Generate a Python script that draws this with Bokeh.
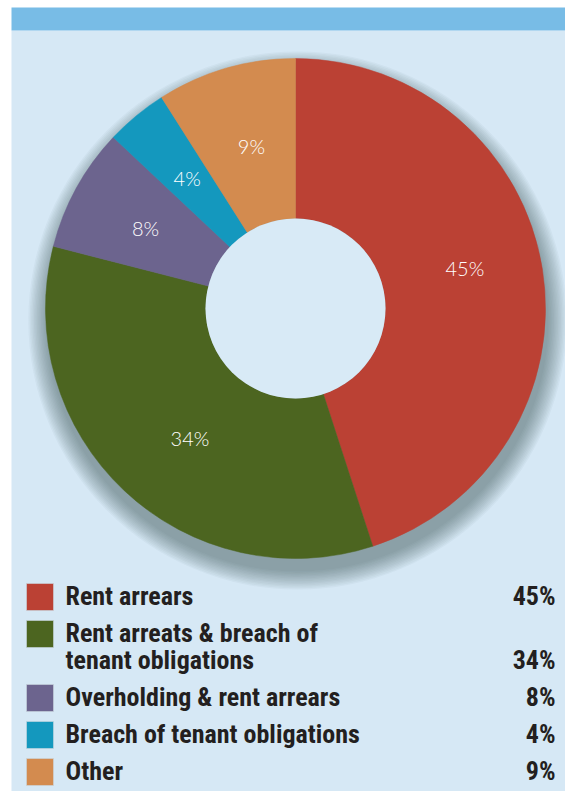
import numpy as np
from bokeh.plotting import figure
from bokeh.models import Range1d, ColumnDataSource
from bokeh.core.properties import value
from bokeh.embed import file_html
from bokeh.resources import INLINE

# ---- data ----
categories = ["Rent arrears",
              "Rent arreats & breach of\ntenant obligations",
              "Overholding & rent arrears",
              "Breach of tenant obligations",
              "Other"]
values = [45, 34, 8, 4, 9]
pct_labels = ["45%", "34%", "8%", "4%", "9%"]
colors = ["#bb4134", "#4c6520", "#6c648e", "#1498be", "#d38b4f"]

# label placement tweaks (layout only): angular shift in degrees and radius
label_shift_deg = [4.3, 4.0, 0.7, 0.0, -1.0]
label_radius = [174, 167, 170, 170, 168]

# ---- figure: data x = screenshot px, data y = 791 - screenshot py ----
W, H = 565, 791
p = figure(width=W, height=H, output_backend="svg", toolbar_location=None,
           x_range=Range1d(0, W), y_range=Range1d(0, H), min_border=0)
p.axis.visible = False
p.grid.visible = False
p.outline_line_color = None
p.background_fill_color = "white"
p.border_fill_color = "white"

def Y(py):
    return H - np.asarray(py, dtype=float)

# panel + header
p.quad(left=[11], right=[600], top=[Y(30)], bottom=[Y(800)], fill_color="#d6e8f5", line_color=None)
p.quad(left=[11], right=[600], top=[Y(7)], bottom=[Y(30)], fill_color="#78bce6", line_color=None)

cx, cy = 295, float(Y(308))
R_out, R_in = 250, 90

# soft shadow under pie
for k in range(14):
    r = R_out + 1 + k * 1.4
    p.circle(x=[cx + 2], y=[cy - 12], radius=r, fill_color="#2a4058",
             fill_alpha=0.04, line_color=None)

# wedges, clockwise from 12 o'clock
vals = np.array(values, dtype=float)
frac = vals / vals.sum()
cum = np.concatenate([[0], np.cumsum(frac)])
start = np.pi / 2 - cum[:-1] * 2 * np.pi
end = np.pi / 2 - cum[1:] * 2 * np.pi
src = ColumnDataSource(dict(start=start, end=end, color=colors))
p.annular_wedge(x=cx, y=cy, inner_radius=R_in, outer_radius=R_out,
                start_angle="start", end_angle="end", direction="clock",
                fill_color="color", line_color="color", line_width=0.5, source=src)

# hole
p.circle(x=[cx], y=[cy], radius=R_in, fill_color="#d8eaf6", line_color=None)

# slice labels
mid = (start + end) / 2 + np.radians(label_shift_deg)
rl = np.array(label_radius, dtype=float)
p.text(x=cx + rl * np.cos(mid), y=cy + rl * np.sin(mid), text=pct_labels,
       text_color="white", text_font=value("'Lato Light', Lato, sans-serif"),
       text_font_size="20px", text_align="center", text_baseline="middle")

# legend
lfont = value("'Liberation Sans Narrow', 'Noto Sans Condensed', 'Roboto Condensed', 'DejaVu Sans Condensed', sans-serif")
tx, ty, lx, ly, lt = [], [], [], [], []
sq_top = []
base = 605
shift = -10  # baseline correction
for cat, pl in zip(categories, pct_labels):
    lines = cat.split("\n")
    sq_top.append(base - 22)
    for i, ln in enumerate(lines):
        tx.append(65); ty.append(float(Y(base + 27 * i + shift))); lt.append(ln)
    last = base + 27 * (len(lines) - 1)
    lx.append(555); ly.append(float(Y(last + shift)))
    base = last + 37

sq_top = np.array(sq_top, dtype=float)
p.quad(left=26, right=53, top=Y(sq_top), bottom=Y(sq_top + 27),
       fill_color=colors, line_color="#c9d6df", line_width=0.6)
p.text(x=tx, y=ty, text=lt, text_color="#231f20", text_font=lfont,
       text_font_style="bold", text_font_size="26px", text_baseline="alphabetic",
       text_align="left")
p.text(x=lx, y=ly, text=pct_labels, text_color="#231f20", text_font=lfont,
       text_font_style="bold", text_font_size="26px", text_baseline="alphabetic",
       text_align="right")

open("out.html", "w").write(file_html(p, INLINE))
